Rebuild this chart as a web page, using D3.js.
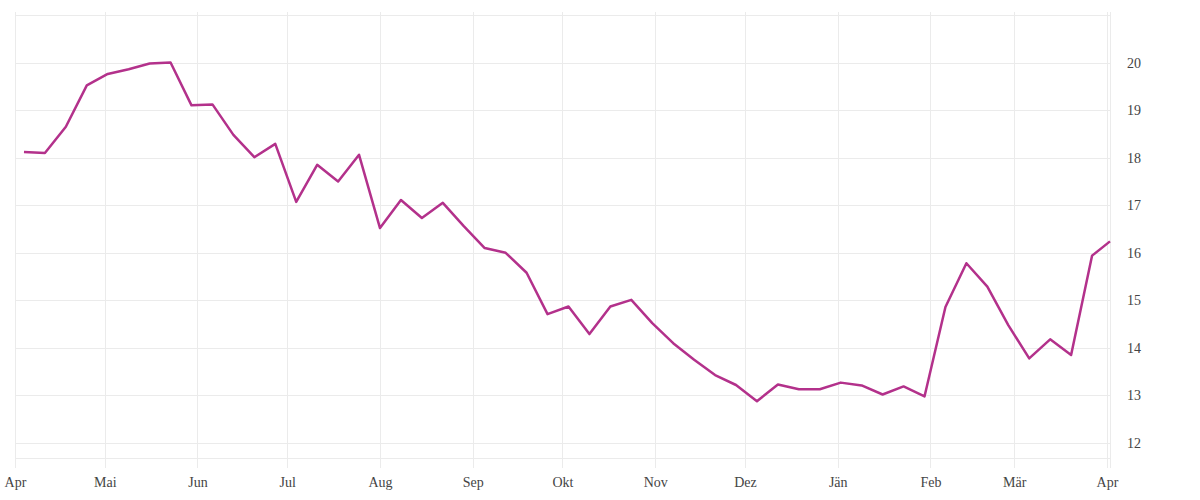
<!DOCTYPE html>
<html>
<head>
<meta charset="utf-8">
<script src="https://cdn.jsdelivr.net/npm/d3@7"></script>
<style>
  body { margin: 0; background: #fff; }
</style>
</head>
<body>
<div id="chart"></div>
<script>
var svgWidth = 1200;
var svgHeight = 500;

// weekly observations
var weeks = [
  "2022-04-04", "2022-04-11", "2022-04-18", "2022-04-25",
  "2022-05-02", "2022-05-09", "2022-05-16", "2022-05-23", "2022-05-30",
  "2022-06-06", "2022-06-13", "2022-06-20", "2022-06-27",
  "2022-07-04", "2022-07-11", "2022-07-18", "2022-07-25",
  "2022-08-01", "2022-08-08", "2022-08-15", "2022-08-22", "2022-08-29",
  "2022-09-05", "2022-09-12", "2022-09-19", "2022-09-26",
  "2022-10-03", "2022-10-10", "2022-10-17", "2022-10-24", "2022-10-31",
  "2022-11-07", "2022-11-14", "2022-11-21", "2022-11-28",
  "2022-12-05", "2022-12-12", "2022-12-19", "2022-12-26",
  "2023-01-02", "2023-01-09", "2023-01-16", "2023-01-23", "2023-01-30",
  "2023-02-06", "2023-02-13", "2023-02-20", "2023-02-27",
  "2023-03-06", "2023-03-13", "2023-03-20", "2023-03-27",
  "2023-04-02"
];

var values = [
  18.12, 18.10, 18.65, 19.52,
  19.76, 19.86, 19.98, 20.00, 19.10,
  19.12, 18.48, 18.01, 18.29,
  17.07, 17.85, 17.50, 18.06,
  16.52, 17.11, 16.73, 17.05, 16.56,
  16.10, 16.00, 15.58, 14.71,
  14.87, 14.29, 14.87, 15.01, 14.52,
  14.10, 13.75, 13.43, 13.22,
  12.88, 13.23, 13.13, 13.13,
  13.27, 13.21, 13.02, 13.19, 12.98,
  14.86, 15.78, 15.29, 14.48,
  13.78, 14.18, 13.85, 15.94,
  16.24
];

var monthTicks = [
  "2022-04-01", "2022-05-01", "2022-06-01", "2022-07-01", "2022-08-01", "2022-09-01",
  "2022-10-01", "2022-11-01", "2022-12-01", "2023-01-01", "2023-02-01", "2023-03-01",
  "2023-04-01"
];
var monthLabels = ["Apr", "Mai", "Jun", "Jul", "Aug", "Sep", "Okt", "Nov", "Dez", "Jän", "Feb", "Mär", "Apr"];

var yTicks = [12, 13, 14, 15, 16, 17, 18, 19, 20];

var parseDate = d3.timeParse("%Y-%m-%d");
var data = weeks.map(function(w, i) {
  return { date: parseDate(w), value: values[i] };
});
var tickDates = monthTicks.map(parseDate);

var plot = { left: 15, right: 1110, top: 15, bottom: 458 };
var labelFont = "'Liberation Serif', 'DejaVu Serif', serif";

var svg = d3.select("#chart")
  .append("svg")
  .attr("width", svgWidth)
  .attr("height", svgHeight);

var xScale = d3.scaleTime()
  .domain([parseDate("2022-03-31"), parseDate("2023-04-02")])
  .range([plot.left - 3, plot.right]);

var yScale = d3.scaleLinear()
  .domain([11.685, 21])
  .range([plot.bottom, plot.top]);

// grid
var grid = svg.append("g").attr("stroke", "#ebebeb").attr("stroke-width", 1);

grid.selectAll(".hgrid")
  .data(yTicks.concat([21, 11.685]))
  .enter()
  .append("line")
  .attr("x1", plot.left)
  .attr("x2", plot.right)
  .attr("y1", d => Math.round(yScale(d)) + 0.5)
  .attr("y2", d => Math.round(yScale(d)) + 0.5);

grid.selectAll(".vgrid")
  .data(tickDates.concat([xScale.domain()[1]]))
  .enter()
  .append("line")
  .attr("x1", d => Math.round(xScale(d)) + 0.5)
  .attr("x2", d => Math.round(xScale(d)) + 0.5)
  .attr("y1", 12)
  .attr("y2", 468);

// axes
var bottomAxis = d3.axisBottom(xScale)
  .tickValues(tickDates)
  .tickSize(0)
  .tickPadding(0)
  .tickFormat((d, i) => monthLabels[i]);

svg.append("g")
  .attr("transform", "translate(0, 477)")
  .call(bottomAxis)
  .attr("font-family", labelFont)
  .attr("font-size", 14)
  .call(g => g.select(".domain").remove())
  .selectAll("text")
  .attr("fill", "#444")
  .attr("dy", "0.71em");

var rightAxis = d3.axisRight(yScale)
  .tickValues(yTicks)
  .tickSize(0)
  .tickPadding(0);

svg.append("g")
  .attr("transform", "translate(1127, 0)")
  .call(rightAxis)
  .attr("font-family", labelFont)
  .attr("font-size", 14)
  .call(g => g.select(".domain").remove())
  .selectAll("text")
  .attr("fill", "#444");

// line
var line = d3.line()
  .x(d => xScale(d.date))
  .y(d => yScale(d.value));

svg.append("path")
  .datum(data)
  .attr("fill", "none")
  .attr("stroke", "#b3318b")
  .attr("stroke-width", 2.5)
  .attr("stroke-linejoin", "round")
  .attr("d", line);
</script>
</body>
</html>
